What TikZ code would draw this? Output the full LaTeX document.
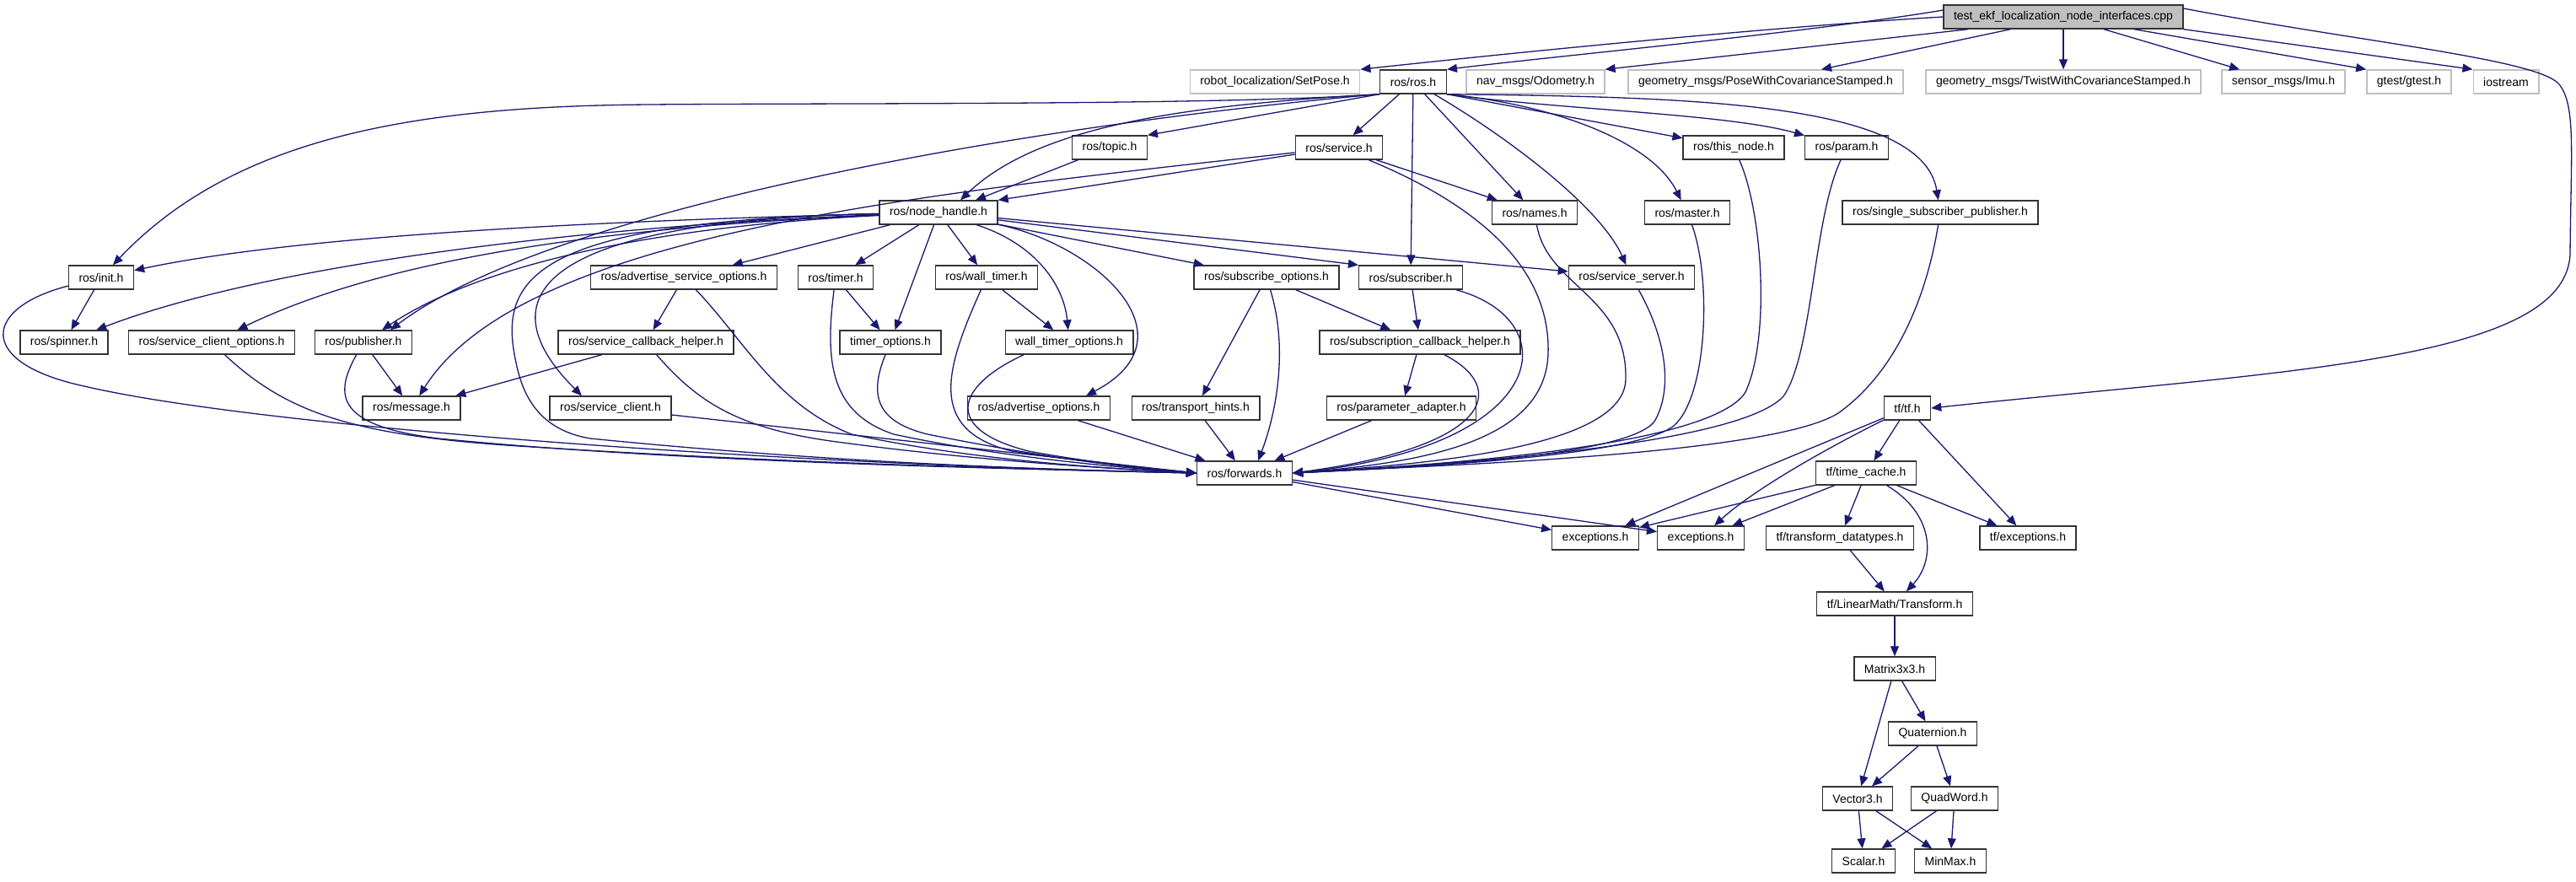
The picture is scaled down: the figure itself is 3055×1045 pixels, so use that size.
\documentclass[tikz,border=0pt]{standalone}
\usepackage{fontspec}
\setmainfont{Liberation Sans}
\usepackage{tikz}
\usetikzlibrary{arrows.meta}
\definecolor{edgeblue}{HTML}{191970}
\definecolor{extgray}{HTML}{BFBFBF}

\begin{document}
\begin{tikzpicture}[x=0.5pt,y=0.5pt,yscale=-1,xscale=1,
  hdr/.style={draw=black!80,line width=0.7pt,fill=white,inner xsep=6pt,inner ysep=0pt,minimum height=14pt,font=\fontsize{7pt}{8.4pt}\selectfont},
  ext/.style={hdr,draw=extgray},
  root/.style={hdr,fill=extgray},
  inc/.style={draw=edgeblue,line width=0.65pt,-{Triangle[length=6pt,width=5pt]}}]
\useasboundingbox (0,0) rectangle (3055,1045);

% Text Node: file and first level
\node[root] (cpp) at (2447,20) {test\_ekf\_localization\_node\_interfaces.cpp};
\node[ext] (setpose) at (1512,97) {robot\_localization/SetPose.h};
\node[hdr] (rosh) at (1676,97) {ros/ros.h};
\node[ext] (odom) at (1821,97) {nav\_msgs/Odometry.h};
\node[ext] (posecov) at (2094,97) {geometry\_msgs/PoseWithCovarianceStamped.h};
\node[ext] (twistcov) at (2447,97) {geometry\_msgs/TwistWithCovarianceStamped.h};
\node[ext] (imu) at (2708,97) {sensor\_msgs/Imu.h};
\node[ext] (gtest) at (2857,97) {gtest/gtest.h};
\node[ext] (iostream) at (2972,97) {iostream};

% Text Node: ros headers
\node[hdr] (topic) at (1316,175) {ros/topic.h};
\node[hdr] (service) at (1588,175) {ros/service.h};
\node[hdr] (thisnode) at (2056,175) {ros/this\_node.h};
\node[hdr] (param) at (2190,175) {ros/param.h};
\node[hdr] (nodehandle) at (1113,252) {ros/node\_handle.h};
\node[hdr] (names) at (1820,252) {ros/names.h};
\node[hdr] (master) at (2001,252) {ros/master.h};
\node[hdr] (singlesub) at (2301,252) {ros/single\_subscriber\_publisher.h};
\node[hdr] (init) at (120,329) {ros/init.h};
\node[hdr] (advsrvopt) at (811,329) {ros/advertise\_service\_options.h};
\node[hdr] (timer) at (991,329) {ros/timer.h};
\node[hdr] (walltimer) at (1170,329) {ros/wall\_timer.h};
\node[hdr] (subopt) at (1502,329) {ros/subscribe\_options.h};
\node[hdr] (subscriber) at (1673,329) {ros/subscriber.h};
\node[hdr] (srvserver) at (1935,329) {ros/service\_server.h};
\node[hdr] (spinner) at (76,406) {ros/spinner.h};
\node[hdr] (srvclientopt) at (251,406) {ros/service\_client\_options.h};
\node[hdr] (publisher) at (431,406) {ros/publisher.h};
\node[hdr] (srvcbhelper) at (766,406) {ros/service\_callback\_helper.h};
\node[hdr] (timeropt) at (1056,406) {timer\_options.h};
\node[hdr] (walltimeropt) at (1268,406) {wall\_timer\_options.h};
\node[hdr] (subcbhelper) at (1684,406) {ros/subscription\_callback\_helper.h};
\node[hdr] (message) at (488,484) {ros/message.h};
\node[hdr] (srvclient) at (724,484) {ros/service\_client.h};
\node[hdr] (advopt) at (1232,484) {ros/advertise\_options.h};
\node[hdr] (transport) at (1418,484) {ros/transport\_hints.h};
\node[hdr] (paramadapter) at (1662,484) {ros/parameter\_adapter.h};
\node[hdr] (forwards) at (1476,561) {ros/forwards.h};

% Text Node: tf headers
\node[hdr] (tf) at (2262,484) {tf/tf.h};
\node[hdr] (timecache) at (2213,561) {tf/time\_cache.h};
\node[hdr] (exca) at (1892,638) {exceptions.h};
\node[hdr] (excb) at (2017,638) {exceptions.h};
\node[hdr] (transformdt) at (2182,638) {tf/transform\_datatypes.h};
\node[hdr] (tfexc) at (2405,638) {tf/exceptions.h};
\node[hdr] (transform) at (2247,716) {tf/LinearMath/Transform.h};
\node[hdr] (matrix) at (2247,793) {Matrix3x3.h};
\node[hdr] (quat) at (2292,870) {Quaternion.h};
\node[hdr] (vector) at (2203,947) {Vector3.h};
\node[hdr] (quadword) at (2318,947) {QuadWord.h};
\node[hdr] (scalar) at (2210,1021) {Scalar.h};
\node[hdr] (minmax) at (2313,1021) {MinMax.h};

%Straight Lines: from the cpp file
\draw[inc] (cpp.west) .. controls (2100,32) and (1800,62) .. (setpose.north east);
\draw[inc] ([yshift=-4pt]cpp.west) .. controls (2150,38) and (1850,66) .. (rosh.north east);
\draw[inc] ([xshift=15pt]cpp.south west) -- (odom.north east);
\draw[inc] ([xshift=40pt]cpp.south west) -- ([xshift=33pt]posecov.north);
\draw[inc] (cpp) -- (twistcov);
\draw[inc] ([xshift=24pt]cpp.south) -- ([xshift=-26pt]imu.north);
\draw[inc] ([xshift=42pt]cpp.south) -- (gtest.north west);
\draw[inc] (cpp.south east) -- (iostream.north west);
\draw[inc] ([yshift=-5pt]cpp.east) .. controls (2800,50) and (3010,70) .. (3035,100) .. controls (3055,125) and (3049,180) .. (3048,300) .. controls (3045,430) and (2700,440) .. (tf.east);

%Straight Lines: from ros/ros.h
\draw[inc] (rosh.south west) .. controls (1450,125) and (1000,122) .. (770,124) .. controls (500,126) and (280,160) .. (init);
\draw[inc] (rosh.south west) .. controls (1400,125) and (1230,150) .. ([xshift=13pt]nodehandle.north);
\draw[inc] (rosh.south west) -- (topic.north east);
\draw[inc] (rosh.south west) .. controls (1200,150) and (650,250) .. ([xshift=16pt]publisher.north);
\draw[inc] (rosh) -- (service);
\draw[inc] (rosh) -- (subscriber);
\draw[inc] (rosh) -- (names);
\draw[inc] (rosh) .. controls (1800,170) and (1900,250) .. (srvserver);
\draw[inc] (rosh.south east) .. controls (1850,125) and (1960,170) .. (master);
\draw[inc] (rosh.south east) -- (thisnode);
\draw[inc] (rosh.south east) .. controls (1850,130) and (2050,135) .. (param);
\draw[inc] (rosh.south east) .. controls (2000,115) and (2280,120) .. (singlesub);

%Straight Lines: ros/service.h and ros/topic.h
\draw[inc] (service) -- (nodehandle.north east);
\draw[inc] (service) .. controls (1100,230) and (620,275) .. (message);
\draw[inc] (service) -- (names);
\draw[inc] (service) .. controls (1720,230) and (1840,300) .. (1836,420) .. controls (1832,520) and (1700,548) .. (forwards.east);
\draw[inc] (topic) -- ([xshift=22pt]nodehandle.north);

%Straight Lines: from ros/node_handle.h
\draw[inc] (nodehandle) .. controls (700,262) and (350,280) .. (init);
\draw[inc] (nodehandle) .. controls (650,270) and (300,320) .. (spinner);
\draw[inc] (nodehandle) .. controls (700,270) and (450,310) .. (srvclientopt);
\draw[inc] (nodehandle) .. controls (750,270) and (560,320) .. (publisher);
\draw[inc] (nodehandle) .. controls (630,262) and (590,330) .. (612,430) .. controls (620,470) and (640,510) .. (700,520) .. controls (1000,550) and (1250,557) .. (forwards.west);
\draw[inc] (nodehandle) .. controls (620,262) and (580,360) .. ([xshift=-17pt]srvclient.north);
\draw[inc] (nodehandle) -- (advsrvopt);
\draw[inc] (nodehandle) -- (timer);
\draw[inc] (nodehandle) -- (timeropt);
\draw[inc] (nodehandle) -- (walltimer);
\draw[inc] (nodehandle) .. controls (1230,290) and (1262,340) .. (walltimeropt);
\draw[inc] (nodehandle) .. controls (1300,290) and (1420,400) .. ([xshift=28pt]advopt.north);
\draw[inc] (nodehandle) -- (subopt);
\draw[inc] (nodehandle) -- (subscriber.north west);
\draw[inc] (nodehandle) -- (srvserver);

%Straight Lines: left part into ros/forwards.h
\draw[inc] (init) -- (spinner);
\draw[inc] (init) .. controls (-20,365) and (-30,430) .. (100,458) .. controls (300,505) and (900,550) .. (forwards.west);
\draw[inc] (srvclientopt) .. controls (340,490) and (420,515) .. (600,528) .. controls (900,548) and (1200,556) .. (forwards.west);
\draw[inc] (publisher) -- (message);
\draw[inc] (publisher) .. controls (395,470) and (400,505) .. (520,520) .. controls (800,548) and (1200,556) .. (forwards.west);
\draw[inc] (srvcbhelper) -- (message);
\draw[inc] (srvcbhelper) .. controls (830,480) and (880,510) .. (1000,525) .. controls (1150,545) and (1300,555) .. (forwards.west);
\draw[inc] (advsrvopt) -- (srvcbhelper);
\draw[inc] (advsrvopt) .. controls (880,400) and (920,480) .. (1010,515) .. controls (1150,545) and (1300,555) .. (forwards.west);
\draw[inc] (srvclient) -- (forwards.west);
\draw[inc] (timer) -- (timeropt);
\draw[inc] (timer) .. controls (978,430) and (985,490) .. (1060,515) .. controls (1200,545) and (1350,556) .. (forwards.west);
\draw[inc] (timeropt) .. controls (1030,470) and (1040,500) .. (1100,515) .. controls (1250,545) and (1350,556) .. (forwards.west);
\draw[inc] (walltimer) -- (walltimeropt);
\draw[inc] (walltimer) .. controls (1120,440) and (1100,510) .. (1200,535) .. controls (1300,550) and (1380,557) .. (forwards.west);
\draw[inc] ([xshift=-27pt]walltimeropt.south) .. controls (1130,460) and (1120,510) .. (1220,535) .. controls (1300,550) and (1380,557) .. (forwards.west);
\draw[inc] (advopt) -- (forwards);
\draw[inc] (transport) -- (forwards);

%Straight Lines: right part into ros/forwards.h
\draw[inc] (subopt) -- (transport);
\draw[inc] (subopt) -- (subcbhelper);
\draw[inc] (subopt) .. controls (1530,420) and (1510,500) .. ([xshift=8pt]forwards.north);
\draw[inc] (subscriber) -- (subcbhelper);
\draw[inc] (subscriber) .. controls (1860,380) and (1840,530) .. (forwards.east);
\draw[inc] (subcbhelper) -- (paramadapter);
\draw[inc] (subcbhelper) .. controls (1790,460) and (1770,530) .. (forwards.east);
\draw[inc] (paramadapter) -- (forwards);
\draw[inc] (names) .. controls (1835,340) and (1930,350) .. (1928,450) .. controls (1926,530) and (1700,550) .. (forwards.east);
\draw[inc] (srvserver) .. controls (1975,400) and (1985,460) .. (1962,500) .. controls (1930,540) and (1700,553) .. (forwards.east);
\draw[inc] (master) .. controls (2030,330) and (2025,470) .. (1985,505) .. controls (1940,540) and (1700,553) .. (forwards.east);
\draw[inc] (thisnode) .. controls (2090,250) and (2100,400) .. (2070,465) .. controls (2030,530) and (1700,552) .. (forwards.east);
\draw[inc] (param) .. controls (2150,260) and (2150,420) .. (2115,470) .. controls (2060,530) and (1700,552) .. (forwards.east);
\draw[inc] (singlesub) .. controls (2285,350) and (2250,440) .. (2180,490) .. controls (2100,540) and (1700,552) .. (forwards.east);
\draw[inc] (forwards) -- (exca);
\draw[inc] (forwards) -- (excb);

%Straight Lines: tf
\draw[inc] (tf) -- (exca);
\draw[inc] (tf) .. controls (2150,540) and (2075,585) .. (excb);
\draw[inc] (tf) -- (timecache);
\draw[inc] (tf) -- (tfexc);
\draw[inc] (timecache) -- (exca);
\draw[inc] (timecache) -- (excb);
\draw[inc] (timecache) -- (transformdt);
\draw[inc] (timecache) -- (tfexc);
\draw[inc] (timecache) .. controls (2295,610) and (2295,665) .. (transform);
\draw[inc] (transformdt) -- (transform);
\draw[inc] (transform) -- (matrix);
\draw[inc] (matrix) -- (quat);
\draw[inc] (matrix) -- (vector);
\draw[inc] (quat) -- (vector);
\draw[inc] (quat) -- (quadword);
\draw[inc] (vector) -- (scalar);
\draw[inc] (vector) -- (minmax);
\draw[inc] (quadword) -- (scalar);
\draw[inc] (quadword) -- (minmax);

\end{tikzpicture}
\end{document}
